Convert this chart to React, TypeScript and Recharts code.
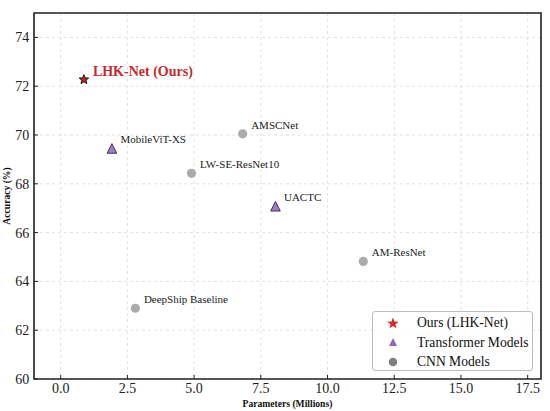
import React from 'react';
import { ScatterChart, Scatter, XAxis, YAxis, CartesianGrid, ReferenceArea, Legend, Label } from 'recharts';

const oursData = [{ name: 'LHK-Net (Ours)', params: 0.87, acc: 72.27 }];
const transformerData = [
  { name: 'MobileViT-XS', params: 1.92, acc: 69.45 },
  { name: 'UACTC', params: 8.05, acc: 67.08 },
];
const cnnData = [
  { name: 'AMSCNet', params: 6.82, acc: 70.05 },
  { name: 'LW-SE-ResNet10', params: 4.9, acc: 68.43 },
  { name: 'AM-ResNet', params: 11.34, acc: 64.82 },
  { name: 'DeepShip Baseline', params: 2.8, acc: 62.9 },
];
const xTicks = [0, 2.5, 5, 7.5, 10, 12.5, 15, 17.5];
const yTicks = [60, 62, 64, 66, 68, 70, 72, 74];
const legendItems = [
  { label: 'Ours (LHK-Net)', kind: 'star' },
  { label: 'Transformer Models', kind: 'triangle' },
  { label: 'CNN Models', kind: 'circle' },
];

const FONT = '"Liberation Serif", "Times New Roman", serif';

function starPoints(cx: number, cy: number, ro: number, ri: number) {
  const pts: string[] = [];
  for (let i = 0; i < 10; i++) {
    const r = i % 2 === 0 ? ro : ri;
    const a = -Math.PI / 2 + (i * Math.PI) / 5;
    pts.push(`${cx + r * Math.cos(a)},${cy + r * Math.sin(a)}`);
  }
  return pts.join(' ');
}

const StarShape = (props: any) => {
  const { cx, cy, payload } = props;
  return (
    <g>
      <polygon points={starPoints(cx, cy, 5, 2.2)} fill="#b3262c" stroke="#111" strokeWidth={0.9} />
      <text x={cx + 9} y={cy - 3.5} fontFamily={FONT} fontSize={14} fontWeight="bold" fill="#c8282e">
        {payload.name}
      </text>
    </g>
  );
};

const TriangleShape = (props: any) => {
  const { cx, cy, payload } = props;
  const r = 4.8;
  return (
    <g>
      <polygon
        points={`${cx},${cy - r} ${cx - r},${cy + r} ${cx + r},${cy + r}`}
        fill="#9b80c8"
        stroke="#2e2440"
        strokeWidth={0.9}
      />
      <text x={cx + 8.5} y={cy - 5} fontFamily={FONT} fontSize={11} fill="#222">
        {payload.name}
      </text>
    </g>
  );
};

const CircleShape = (props: any) => {
  const { cx, cy, payload } = props;
  return (
    <g>
      <circle cx={cx} cy={cy} r={4.6} fill="#ababab" />
      <text x={cx + 8.5} y={cy - 5} fontFamily={FONT} fontSize={11} fill="#222">
        {payload.name}
      </text>
    </g>
  );
};

const LegendIcon = ({ kind }: { kind: string }) => {
  if (kind === 'star')
    return (
      <svg width={14} height={14}>
        <polygon points={starPoints(7, 7.5, 6, 2.5)} fill="#d62728" />
      </svg>
    );
  if (kind === 'triangle')
    return (
      <svg width={14} height={14}>
        <polygon points="7,3 3,11 11,11" fill="#9467bd" />
      </svg>
    );
  return (
    <svg width={14} height={14}>
      <circle cx={7} cy={7} r={4.3} fill="#7f7f7f" />
    </svg>
  );
};

const LegendContent = () => (
  <div
    style={{
      width: 161,
      height: 60,
      border: '1px solid #bdbdbd',
      borderRadius: 3,
      background: 'rgba(255,255,255,0.85)',
      boxSizing: 'border-box',
      paddingTop: 1,
      fontFamily: FONT,
      fontSize: 13.6,
      color: '#111',
    }}
  >
    {legendItems.map((it) => (
      <div key={it.label} style={{ display: 'flex', alignItems: 'center', height: 19.5 }}>
        <div style={{ width: 14, height: 14, marginLeft: 12.5, marginRight: 17.5, display: 'flex' }}>
          <LegendIcon kind={it.kind} />
        </div>
        <span style={{ lineHeight: '19.5px' }}>{it.label}</span>
      </div>
    ))}
  </div>
);

export default function App() {
  return (
    <div style={{ position: 'absolute', left: 0, top: 0, width: 550, height: 411, background: '#fff' }}>
      <ScatterChart width={550} height={411} margin={{ top: 13, right: 9, left: 0, bottom: 0 }}>
        <CartesianGrid stroke="#dadada" strokeDasharray="3 3" strokeWidth={0.8} />
        <XAxis
          type="number"
          dataKey="params"
          domain={[-1, 18]}
          ticks={xTicks}
          tickFormatter={(v: number) => v.toFixed(1)}
          height={32}
          axisLine={false}
          tickSize={-4}
          tickMargin={8.4}
          tickLine={{ stroke: '#222', strokeWidth: 1 }}
          tick={{ fontFamily: FONT, fontSize: 14, fill: '#222' }}
          allowDataOverflow
        >
          <Label
            content={(p: any) => {
              const vb = p.viewBox;
              return (
                <text
                  x={vb.x + vb.width / 2}
                  y={vb.y + 27.5}
                  textAnchor="middle"
                  fontFamily={FONT}
                  fontSize={9.6}
                  fontWeight="bold"
                  fill="#111"
                >
                  Parameters (Millions)
                </text>
              );
            }}
          />
        </XAxis>
        <YAxis
          type="number"
          dataKey="acc"
          domain={[60, 75]}
          ticks={yTicks}
          width={34}
          axisLine={false}
          tickSize={-4}
          tickMargin={8.7}
          tickLine={{ stroke: '#222', strokeWidth: 1 }}
          tick={{ fontFamily: FONT, fontSize: 14, fill: '#222' }}
          allowDataOverflow
        >
          <Label
            content={(p: any) => {
              const vb = p.viewBox;
              const x = 9.8;
              const y = vb.y + vb.height / 2;
              return (
                <text
                  x={x}
                  y={y}
                  textAnchor="middle"
                  transform={`rotate(-90 ${x} ${y})`}
                  fontFamily={FONT}
                  fontSize={9.6}
                  fontWeight="bold"
                  fill="#111"
                >
                  Accuracy (%)
                </text>
              );
            }}
          />
        </YAxis>
        <ReferenceArea x1={-1} x2={18} y1={60} y2={75} fill="none" stroke="#222" strokeWidth={1.6} />
        <Scatter name="CNN Models" data={cnnData} shape={CircleShape} isAnimationActive={false} />
        <Scatter name="Transformer Models" data={transformerData} shape={TriangleShape} isAnimationActive={false} />
        <Scatter name="Ours (LHK-Net)" data={oursData} shape={StarShape} isAnimationActive={false} />
        <Legend
          layout="vertical"
          align="center"
          verticalAlign="middle"
          content={<LegendContent />}
          wrapperStyle={{ position: 'absolute', left: 372, top: 311, width: 161, height: 60 }}
        />
      </ScatterChart>
    </div>
  );
}
